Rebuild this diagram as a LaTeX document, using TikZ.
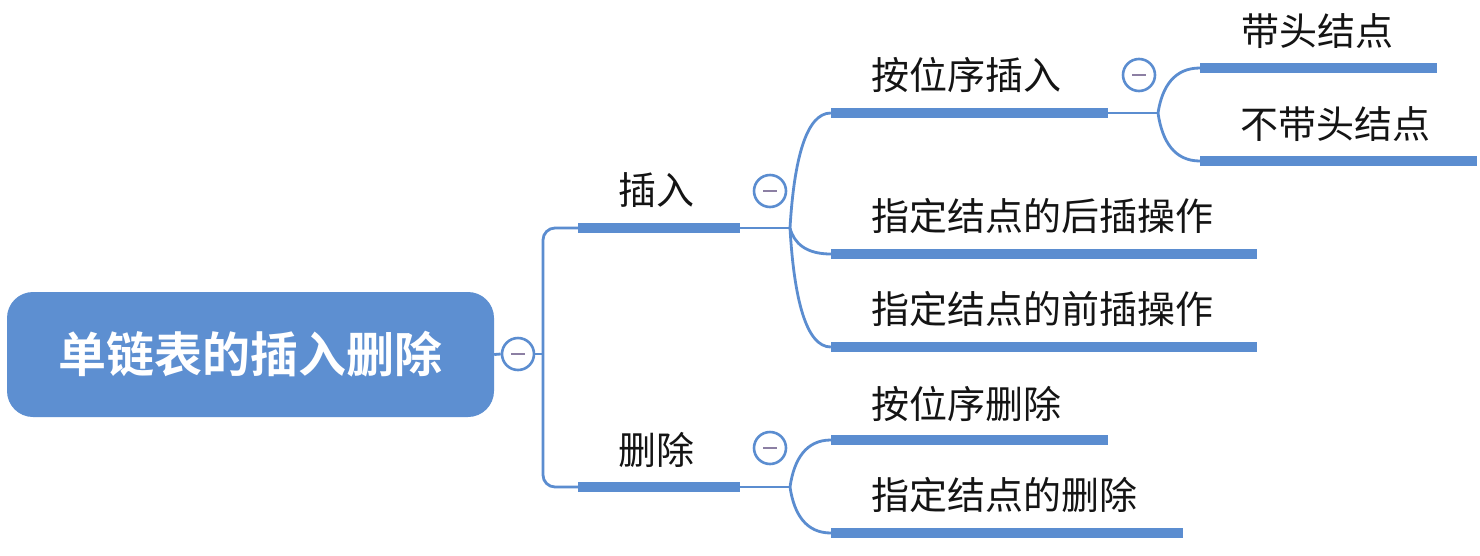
\documentclass[tikz,border=0pt]{standalone}
\usepackage{fontspec}
\newfontfamily\cjk{Noto Sans CJK SC}[BoldFont={Noto Sans CJK SC Bold}]
\usetikzlibrary{calc}
\definecolor{barc}{RGB}{91,141,208}
\definecolor{boxc}{RGB}{93,143,209}
\definecolor{dashc}{RGB}{140,127,163}
\definecolor{txtc}{RGB}{20,20,20}
\tikzset{
  bar/.style={fill=barc, inner sep=0pt, minimum height=9.5pt},
  conn/.style={draw=barc, line width=2.8pt},
  label/.style={inner sep=0pt, text=txtc, font=\cjk\fontsize{38pt}{40pt}\selectfont},
  rootbox/.style={fill=boxc, rounded corners=26pt, minimum width=487pt, minimum height=125pt, inner sep=0pt,
    text=white, font=\cjk\bfseries\fontsize{48pt}{50pt}\selectfont},
  collapse/.style={circle, draw=barc, line width=2.6pt, fill=white, minimum size=32pt, inner sep=0pt,
    path picture={\draw[dashc, line width=2.6pt] ([xshift=-7pt]path picture bounding box.center) -- ([xshift=7pt]path picture bounding box.center);}},
  branch/.style={to path={let \p1=(\tikztostart), \p2=(\tikztotarget) in
    .. controls ({\x1+0.1*(\x2-\x1)}, {\y1+0.6*(\y2-\y1)}) and ({\x1+0.4*(\x2-\x1)}, \y2) .. (\tikztotarget)}}
}
\begin{document}
\begin{tikzpicture}[x=1pt, y=-1pt]
\fill[white] (0,0) rectangle (1480,555);
\useasboundingbox (0,0) rectangle (1480,555);

% root
\node[rootbox] (root) at (250.5,354.5) {单链表的插入删除};
\node[collapse] (rootc) at (518,354) {};
\coordinate (t) at (543,354);

% level 1 bars
\node[bar, minimum width=162pt] (ins) at (659,228) {};
\node[bar, minimum width=162pt] (del) at (659,487) {};
\node[label] (insT) at (656,190) {插入};
\node[label] (delT) at (656,450) {删除};
\node[collapse] (insc) at (770,191) {};
\node[collapse] (delc) at (770,448) {};
\coordinate (s1) at (790,228);
\coordinate (s2) at (790,487);

% level 2 bars
\node[bar, minimum width=277pt] (seqins) at (969.5,113) {};
\node[bar, minimum width=426pt] (after) at (1044,254) {};
\node[bar, minimum width=426pt] (before) at (1044,347) {};
\node[bar, minimum width=277pt] (seqdel) at (969.5,440) {};
\node[bar, minimum width=352pt] (nodedel) at (1007,533) {};
\node[label, anchor=west] (seqinsT) at (871,75) {按位序插入};
\node[label, anchor=west] (afterT) at (871,216) {指定结点的后插操作};
\node[label, anchor=west] (beforeT) at (871,309) {指定结点的前插操作};
\node[label, anchor=west] (seqdelT) at (871,404) {按位序删除};
\node[label, anchor=west] (nodedelT) at (871,495) {指定结点的删除};
\node[collapse] (seqinsc) at (1139,75) {};
\coordinate (s3) at (1158,113);

% level 3 bars
\node[bar, minimum width=237pt] (head) at (1318.5,68) {};
\node[bar, minimum width=277pt] (nohead) at (1338.5,161) {};
\node[label, anchor=west] (headT) at (1241,31) {带头结点};
\node[label, anchor=west] (noheadT) at (1240,124) {不带头结点};

% connectors
\draw[conn] (root.east) -- (rootc.west);
\draw[conn] (rootc.east) -- (t);
\draw[conn, rounded corners=12pt] (ins.west) -| (t) |- (del.west);
\draw[conn] (ins.east) -- (s1);
\draw[conn] (del.east) -- (s2);
\draw[conn] (seqins.east) -- (s3);
\draw[conn] (s1) to[branch] (seqins.west);
\draw[conn] (s1) to[branch] (after.west);
\draw[conn] (s1) to[branch] (before.west);
\draw[conn] (s2) to[branch] (seqdel.west);
\draw[conn] (s2) to[branch] (nodedel.west);
\draw[conn] (s3) to[branch] (head.west);
\draw[conn] (s3) to[branch] (nohead.west);
\end{tikzpicture}
\end{document}
